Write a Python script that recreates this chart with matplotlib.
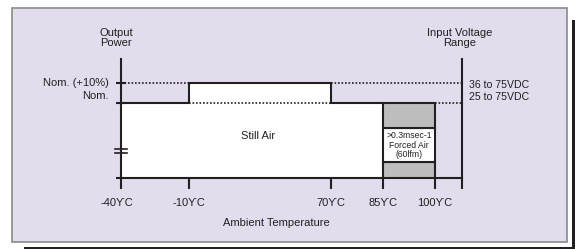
import numpy as np
import matplotlib
matplotlib.use("Agg")
import matplotlib.pyplot as plt
import matplotlib.transforms as mtransforms
from matplotlib.patches import Rectangle, Polygon

plt.rcParams['font.family'] = ['Liberation Sans', 'DejaVu Sans']

# ---------------- data ----------------
temps = [-40, -10, 70, 85, 100]
temp_labels = ['-40ϒC', '-10ϒC', '70ϒC', '85ϒC', '100ϒC']
power_levels = [100, 110]
power_labels = ['Nom.', 'Nom. (+10%)']
still_air_x = [-40, -10, -10, 70, 70, 85]
still_air_y = [100, 100, 110, 110, 100, 100]
forced_air_range = [85, 100]
forced_air_bands = [0, 21, 67, 100]
voltage_labels = ['25 to 75VDC', '36 to 75VDC']

DARK = '#231f20'
LAV = '#e3dcec'
GRAY = '#bdbdbd'


def make_pw(xk, yk):
    xk = np.asarray(xk, float)
    yk = np.asarray(yk, float)
    s0 = (yk[1] - yk[0]) / (xk[1] - xk[0])
    s1 = (yk[-1] - yk[-2]) / (xk[-1] - xk[-2])

    def f(v):
        v = np.asarray(v, float)
        out = np.interp(v, xk, yk)
        out = np.where(v < xk[0], yk[0] + (v - xk[0]) * s0, out)
        out = np.where(v > xk[-1], yk[-1] + (v - xk[-1]) * s1, out)
        return out
    return f


# schematic (non-linear) axis scales
TX = [-40, -10, 70, 85, 100, 115]
PX = [0, 68, 210, 262, 314, 341]
TY = [0, 100, 110, 125]
PY = [0, 75, 95, 119]
xfwd, xinv = make_pw(TX, PX), make_pw(PX, TX)
yfwd, yinv = make_pw(TY, PY), make_pw(PY, TY)

W, H = 575, 249
fig = plt.figure(figsize=(W / 100, H / 100), dpi=100)
fig.patch.set_facecolor('white')

# background axes in pixel coordinates
bg = fig.add_axes([0, 0, 1, 1])
bg.set_xlim(0, W)
bg.set_ylim(H, 0)
bg.axis('off')

# shadow
bg.add_patch(Rectangle((572, 20), 3, 229, facecolor=DARK, edgecolor='none'))
bg.add_patch(Rectangle((24, 246.5), 551, 2.5, facecolor=DARK, edgecolor='none'))
# panel
bg.add_patch(Rectangle((12, 8), 555, 234, facecolor=LAV, edgecolor='#8a8a8a', lw=1.2))

fs = 8
bg.text(116, 38, 'Output\nPower', ha='center', va='center', fontsize=fs, linespacing=1.0, color=DARK)
bg.text(460, 38, 'Input Voltage\nRange', ha='center', va='center', fontsize=fs, linespacing=1.0, color=DARK)
bg.text(109, 83, power_labels[1], ha='right', va='center', fontsize=fs, color=DARK)
bg.text(109, 96, power_labels[0], ha='right', va='center', fontsize=fs, color=DARK)
bg.text(469, 85, voltage_labels[1], ha='left', va='center', fontsize=7.6, color=DARK)
bg.text(469, 97, voltage_labels[0], ha='left', va='center', fontsize=7.6, color=DARK)
bg.text(276, 223, 'Ambient Temperature', ha='center', va='center', fontsize=fs, color=DARK)
bg.plot([115.5, 121], [178, 178], color=DARK, lw=1.5, solid_capstyle='butt')

# chart axes
ax = fig.add_axes([121 / W, (H - 178) / H, 341 / W, 119 / H])
ax.set_facecolor('none')
ax.set_xscale('function', functions=(xfwd, xinv))
ax.set_yscale('function', functions=(yfwd, yinv))
ax.set_xlim(TX[0], TX[-1])
ax.set_ylim(TY[0], TY[-1])

for s in ['left', 'bottom', 'right']:
    ax.spines[s].set_color(DARK)
    ax.spines[s].set_linewidth(1.5)
ax.spines['top'].set_visible(False)

ax.set_xticks(temps + [TX[-1]])
ax.set_xticklabels(temp_labels + [''])
ax.tick_params(axis='x', length=7.9, width=1.5, direction='out', color=DARK,
               pad=6.5, labelsize=fs, labelcolor=DARK)
ax.xaxis.set_minor_locator(plt.NullLocator())
first = ax.get_xticklabels()[0]
first.set_transform(first.get_transform() +
                    mtransforms.ScaledTranslation(-4 / 100, 0, fig.dpi_scale_trans))
ax.set_yticks(power_levels)
ax.set_yticklabels([])
ax.yaxis.set_minor_locator(plt.NullLocator())
ax.tick_params(axis='y', length=7.9, width=1.5, direction='inout', color=DARK)

# still-air region
poly_x = [still_air_x[0]] + still_air_x + [still_air_x[-1]]
poly_y = [0] + still_air_y + [0]
ax.add_patch(Polygon(list(zip(poly_x, poly_y)), closed=True, facecolor='white',
                     edgecolor='none', zorder=1))
ax.plot(still_air_x, still_air_y, color=DARK, lw=1.5, zorder=4,
        solid_joinstyle='miter')

# dotted guide lines
dot = dict(color=DARK, lw=1.2, ls=(0, (1, 1.1)), zorder=3)
ax.plot([still_air_x[0], still_air_x[1]], [power_levels[1]] * 2, **dot)
ax.plot([still_air_x[4], TX[-1]], [power_levels[1]] * 2, **dot)
ax.plot([still_air_x[1], still_air_x[4]], [power_levels[0]] * 2, **dot)
ax.plot([forced_air_range[1], TX[-1]], [power_levels[0]] * 2, **dot)

# forced air boxes
band_colors = [GRAY, 'white', GRAY]
for i, c in enumerate(band_colors):
    ax.add_patch(Rectangle((forced_air_range[0], forced_air_bands[i]),
                           forced_air_range[1] - forced_air_range[0],
                           forced_air_bands[i + 1] - forced_air_bands[i],
                           facecolor=c, edgecolor=DARK, lw=1.5, zorder=5))

ax.text(29, 56, 'Still Air', ha='center', va='center', fontsize=fs, color=DARK, zorder=6)
ax.text(np.mean(forced_air_range), 44, '>0.3msec-1\nForced Air\n(60lfm)', ha='center',
        va='center', fontsize=6.2, linespacing=1.05, color=DARK, zorder=6)

# axis break marks
for yy in (149, 152.5):
    ax.plot([115, 127], [yy, yy], color=DARK, lw=1.2, transform=bg.transData,
            clip_on=False, zorder=7)

fig.savefig('out.png', dpi=100, facecolor='white')
